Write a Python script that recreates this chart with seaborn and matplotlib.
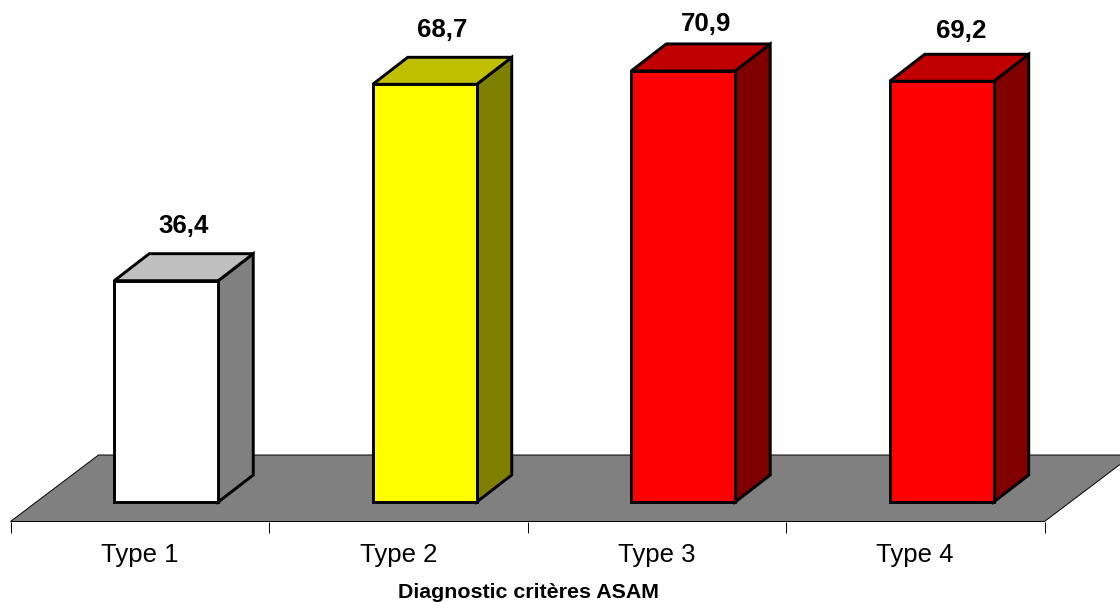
import matplotlib
matplotlib.use("Agg")
import matplotlib.pyplot as plt
from matplotlib.patches import Polygon
import seaborn as sns

categories = ["Type 1", "Type 2", "Type 3", "Type 4"]
values = [36.4, 68.7, 70.9, 69.2]
value_labels = ["36,4", "68,7", "70,9", "69,2"]
face_colors = ["#FFFFFF", "#FFFF00", "#FF0000", "#FF0000"]
side_colors = ["#808080", "#808000", "#800000", "#800000"]
top_colors = ["#C0C0C0", "#C0C000", "#C00000", "#C00000"]
x_title = "Diagnostic critères ASAM"

sns.set_theme(style="white")
plt.rcParams["font.family"] = ["Liberation Sans", "DejaVu Sans"]

W, H = 1120, 602
fig = plt.figure(figsize=(W / 100, H / 100), dpi=100, facecolor="white")

# Axes run from the front floor edge up to the top of the figure
left, right, bottom_px = 10.5, 1044.5, 521.5
ax = fig.add_axes([left / W, (H - bottom_px) / H, (right - left) / W, bottom_px / H])
ax.patch.set_alpha(0)

px_x = (right - left) / 4       # pixels per category
px_y = 6.08                     # pixels per value unit
base_px = 502                   # pixel row of the bar base
bar_offset = 26.5 / px_x        # bars sit right of each category's centre

sns.barplot(x=categories, y=values, hue=categories, palette=face_colors,
            saturation=1, width=104 / px_x, edgecolor="black", linewidth=2.1,
            legend=False, dodge=False, ax=ax, zorder=3)
bars = sorted((p for p in ax.patches if p.get_height() > 0), key=lambda p: p.get_x())

# Set limits after the bar call, which resets the categorical range
ax.set_xlim(-0.5 - bar_offset, 3.5 - bar_offset)
ax.set_ylim(-(bottom_px - base_px) / px_y, base_px / px_y)

# Depth of the extruded bars and of the floor, in data units
dx, dy = 35 / px_x, 27 / px_y
floor_dx, floor_dy = 88 / px_x, 66.5 / px_y

x0, x1 = ax.get_xlim()
y0 = ax.get_ylim()[0]
ax.add_patch(Polygon([(x0, y0), (x1, y0), (x1 + floor_dx, y0 + floor_dy), (x0 + floor_dx, y0 + floor_dy)],
                     closed=True, facecolor="#808080", edgecolor="black", linewidth=0.7,
                     clip_on=False, zorder=1))

# Label offsets in points from the middle of each bar's back top edge
label_shift = [0, 0, 3.6, 1.4]
label_raise = [20, 20, 14, 17]
for i, bar in enumerate(bars):
    xl, xr, yt = bar.get_x(), bar.get_x() + bar.get_width(), bar.get_height()
    side = [(xr, 0), (xr + dx, dy), (xr + dx, yt + dy), (xr, yt)]
    top = [(xl, yt), (xl + dx, yt + dy), (xr + dx, yt + dy), (xr, yt)]
    for pts, col in ((side, side_colors[i]), (top, top_colors[i])):
        ax.add_patch(Polygon(pts, closed=True, facecolor=col, edgecolor="black",
                             linewidth=2.1, joinstyle="miter", clip_on=False, zorder=2))
    ax.annotate(value_labels[i], xy=(xl + (xr - xl) / 2 + dx / 2, yt + dy),
                xytext=(label_shift[i], label_raise[i]), textcoords="offset points",
                ha="center", va="center", fontsize=18.6, fontweight="bold",
                color="black", annotation_clip=False, zorder=5)

for s in ("top", "left", "right", "bottom"):
    ax.spines[s].set_visible(False)
ax.set_yticks([])

# Tick marks separate categories; labels sit centred between them
centres = [i - bar_offset for i in range(len(categories))]
edges = [c - 0.5 for c in centres] + [centres[-1] + 0.5]
ax.set_xticks(edges, minor=True)
ax.set_xticks(centres, categories)
ax.tick_params(axis="x", which="major", length=0, pad=15.5, labelsize=18.5, colors="black")
ax.tick_params(axis="x", which="minor", bottom=True, length=8, width=0.7, color="black")

fig.text(528 / W, 1 - 592.5 / H, x_title, ha="center", va="center",
         fontsize=15.4, fontweight="bold", color="black")

fig.savefig("out.png", dpi=100, facecolor="white")
